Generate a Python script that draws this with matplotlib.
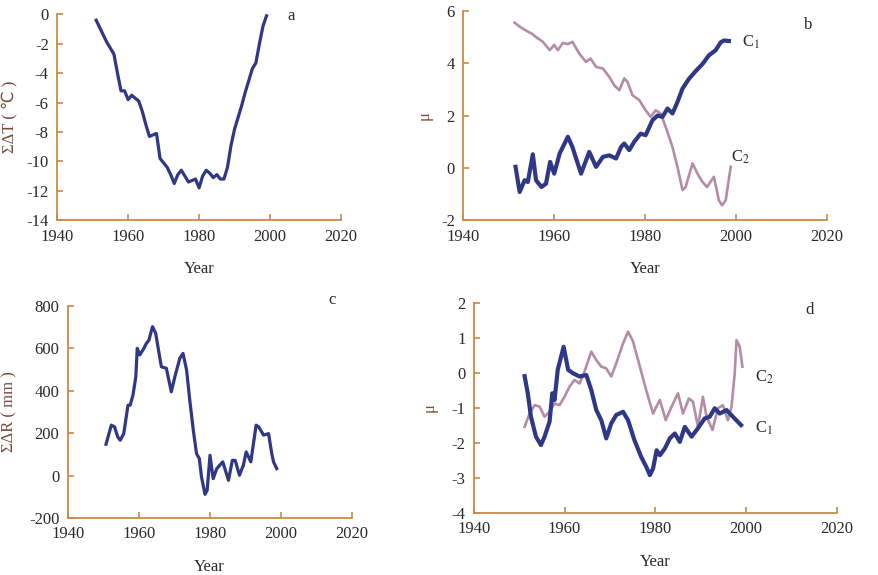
import matplotlib
matplotlib.use("Agg")
import matplotlib.pyplot as plt

plt.rcParams['font.family'] = ['Liberation Serif', 'DejaVu Sans']
plt.rcParams['mathtext.fontset'] = 'stix'
plt.rcParams['axes.unicode_minus'] = False

# panel a: accumulated temperature anomaly
years_a = [1951, 1952, 1953, 1954, 1955, 1956, 1957, 1958, 1959, 1960,
           1961, 1962, 1963, 1964, 1965, 1966, 1967, 1968, 1969, 1970,
           1971, 1972, 1973, 1974, 1975, 1976, 1977, 1978, 1979, 1980,
           1981, 1982, 1983, 1984, 1985, 1986, 1987, 1988, 1989, 1990,
           1991, 1992, 1993, 1994, 1995, 1996, 1997, 1998, 1999]
temp_a = [-0.4, -0.9, -1.4, -1.9, -2.3, -2.7, -4.0, -5.2, -5.2, -5.8,
          -5.5, -5.7, -5.9, -6.6, -7.5, -8.3, -8.2, -8.1, -9.8, -10.1,
          -10.4, -10.9, -11.5, -10.9, -10.6, -11.0, -11.4, -11.3, -11.2, -11.8,
          -11.0, -10.6, -10.8, -11.1, -10.9, -11.2, -11.2, -10.4, -8.9, -7.8,
          -7.0, -6.2, -5.3, -4.5, -3.7, -3.3, -2.0, -0.8, -0.1]

# panel b: temperature test statistics
years_b1 = [1951.5, 1952.4, 1953.5, 1954.2, 1955.3, 1956.0, 1957.2, 1958.2, 1959.1, 1960.0,
            1961.2, 1963.0, 1964.0, 1965.9, 1967.7, 1969.2, 1970.7, 1972.1, 1973.6, 1974.7,
            1975.4, 1976.5, 1977.6, 1979.0, 1980.1, 1981.6, 1982.7, 1983.8, 1984.9, 1986.0,
            1987.1, 1988.2, 1989.6, 1991.1, 1992.6, 1994.0, 1995.5, 1996.6, 1997.3, 1998.4]
c1_b = [0.04, -0.92, -0.47, -0.54, 0.52, -0.47, -0.73, -0.60, 0.23, -0.22,
        0.55, 1.19, 0.80, -0.22, 0.61, 0.04, 0.42, 0.48, 0.36, 0.80,
        0.93, 0.68, 1.00, 1.31, 1.25, 1.82, 2.00, 1.95, 2.27, 2.08,
        2.52, 3.03, 3.40, 3.70, 3.97, 4.30, 4.50, 4.80, 4.87, 4.85]
years_b2 = [1951.3, 1952.4, 1953.9, 1955.0, 1956.0, 1957.5, 1959.0, 1960.0, 1960.8, 1961.9,
            1963.0, 1964.0, 1965.5, 1967.0, 1968.0, 1969.2, 1970.7, 1972.1, 1973.2, 1974.3,
            1975.4, 1976.1, 1977.2, 1978.7, 1980.1, 1981.2, 1982.3, 1983.4, 1984.5, 1986.0,
            1987.1, 1988.2, 1988.9, 1990.4, 1991.5, 1992.6, 1993.6, 1995.1, 1996.2, 1996.9,
            1997.7, 1998.8]
c2_b = [5.55, 5.40, 5.24, 5.14, 5.00, 4.82, 4.50, 4.70, 4.50, 4.78,
        4.73, 4.82, 4.37, 4.05, 4.18, 3.86, 3.80, 3.48, 3.16, 2.97,
        3.42, 3.29, 2.78, 2.59, 2.20, 1.95, 2.20, 2.08, 1.57, 0.80,
        0.04, -0.85, -0.73, 0.17, -0.22, -0.54, -0.73, -0.34, -1.24, -1.43,
        -1.24, 0.04]

# panel c: accumulated precipitation anomaly
years_c = [1950.8, 1952.3, 1953.2, 1954.1, 1954.8, 1955.8, 1956.5, 1957.0, 1957.6, 1958.4,
           1959.2, 1959.6, 1960.3, 1961.2, 1962.2, 1962.9, 1963.9, 1964.8, 1965.9, 1966.4,
           1967.8, 1969.2, 1970.2, 1971.6, 1972.5, 1973.5, 1974.4, 1975.4, 1976.3, 1977.1,
           1977.7, 1978.7, 1979.3, 1980.1, 1981.0, 1982.0, 1983.7, 1985.3, 1986.4, 1987.2,
           1988.4, 1989.5, 1990.3, 1991.6, 1993.1, 1993.8, 1995.2, 1996.6, 1997.5, 1998.0,
           1998.9]
rain_c = [148, 238, 230, 183, 167, 198, 277, 332, 332, 380,
          466, 600, 569, 592, 624, 639, 702, 671, 561, 513,
          506, 395, 466, 553, 576, 498, 356, 214, 104, 80,
          -6, -88, -69, 96, -14, 33, 65, -22, 72, 72,
          2, 49, 112, 65, 238, 230, 191, 198, 104, 65,
          33]

# panel d: precipitation test statistics
years_d1 = [1951.2, 1951.9, 1952.6, 1953.7, 1954.8, 1955.6, 1956.7, 1957.3, 1957.8, 1958.5,
            1959.8, 1960.8, 1961.9, 1963.3, 1964.8, 1965.9, 1967.0, 1968.1, 1969.2, 1970.3,
            1971.4, 1972.9, 1974.0, 1975.4, 1976.9, 1978.0, 1978.8, 1979.5, 1980.3, 1981.0,
            1982.1, 1983.2, 1984.3, 1985.4, 1986.5, 1988.0, 1989.4, 1990.9, 1992.0, 1993.1,
            1994.2, 1995.7, 1997.1, 1998.9]
c1_d = [-0.09, -0.58, -1.25, -1.82, -2.06, -1.82, -1.39, -0.58, -0.77, 0.09,
        0.75, 0.09, -0.01, -0.10, -0.06, -0.49, -1.06, -1.35, -1.87, -1.44,
        -1.20, -1.11, -1.35, -1.92, -2.40, -2.68, -2.92, -2.73, -2.21, -2.35,
        -2.16, -1.87, -1.73, -1.97, -1.54, -1.82, -1.58, -1.30, -1.25, -1.01,
        -1.16, -1.06, -1.25, -1.49]
years_d2 = [1951.2, 1952.3, 1953.4, 1954.5, 1955.6, 1956.7, 1957.8, 1958.9, 1960.0, 1961.1,
            1962.2, 1963.3, 1964.4, 1965.9, 1967.0, 1968.1, 1969.2, 1970.3, 1971.4, 1972.9,
            1974.0, 1975.1, 1976.6, 1978.0, 1979.5, 1980.4, 1981.0, 1982.3, 1983.6, 1985.0,
            1986.1, 1987.4, 1988.3, 1989.4, 1990.5, 1991.3, 1992.6, 1993.8, 1994.9, 1996.0,
            1996.8, 1997.5, 1997.9, 1998.6, 1999.2]
c2_d = [-1.54, -1.16, -0.92, -0.96, -1.25, -1.11, -0.87, -0.92, -0.68, -0.39,
        -0.20, -0.30, 0.04, 0.61, 0.37, 0.18, 0.13, -0.10, 0.28, 0.85,
        1.18, 0.90, 0.18, -0.49, -1.16, -0.92, -0.77, -1.35, -0.96, -0.58,
        -1.16, -0.73, -0.82, -1.54, -0.68, -1.25, -1.63, -1.01, -0.92, -1.35,
        -0.96, -0.01, 0.94, 0.75, 0.18]

x_ticks = [1940, 1960, 1980, 2000, 2020]

navy = '#2e3887'
mauve = '#b48ca6'
axis_col = '#c98b4a'
text_col = '#2a2a2a'
label_col = '#7a4a3e'


def style_axis(ax, ylim, yticks):
    ax.set_xlim(1940, 2020)
    ax.set_ylim(*ylim)
    ax.set_xticks(x_ticks)
    ax.set_yticks(yticks)
    for side in ['top', 'right']:
        ax.spines[side].set_visible(False)
    for side in ['left', 'bottom']:
        ax.spines[side].set_color(axis_col)
        ax.spines[side].set_linewidth(1.3)
    ax.tick_params(direction='in', length=4, width=1.2, color=axis_col,
                   labelsize=12, labelcolor=text_col, pad=6)
    ax.set_xlabel('Year', fontsize=12, color=text_col, labelpad=12)


fig = plt.figure(figsize=(8.79, 5.75), dpi=100)

ax_a = fig.add_axes([0.065, 0.617, 0.323, 0.358])
ax_b = fig.add_axes([0.527, 0.617, 0.414, 0.364])
ax_c = fig.add_axes([0.077, 0.099, 0.323, 0.369])
ax_d = fig.add_axes([0.539, 0.108, 0.413, 0.365])

ax_a.plot(years_a, temp_a, color=navy, lw=2.3)
style_axis(ax_a, (-14, 0), range(-14, 1, 2))
ax_a.set_ylabel('ΣΔT ( ℃ )', fontsize=12, color=label_col)
ax_a.yaxis.set_label_coords(-0.137, 0.5)
ax_a.text(2005, -0.1, 'a', fontsize=12, color=text_col, va='center')

ax_b.plot(years_b2, c2_b, color=mauve, lw=1.9)
ax_b.plot(years_b1, c1_b, color=navy, lw=3.0)
style_axis(ax_b, (-2, 6), range(-2, 7, 2))
ax_b.set_ylabel('μ', fontsize=12, color=label_col)
ax_b.yaxis.set_label_coords(-0.085, 0.5)
ax_b.text(2015, 5.45, 'b', fontsize=12, color=text_col, va='center')
ax_b.text(2001.2, 4.8, r'C$_1$', fontsize=12, color=text_col, va='center')
ax_b.text(1998.8, 0.4, r'C$_2$', fontsize=12, color=text_col, va='center')

ax_c.plot(years_c, rain_c, color=navy, lw=2.3)
style_axis(ax_c, (-200, 800), range(-200, 801, 200))
ax_c.set_ylabel('ΣΔR ( mm )', fontsize=12, color=label_col)
ax_c.yaxis.set_label_coords(-0.176, 0.5)
ax_c.text(2013.5, 830, 'c', fontsize=12, color=text_col, va='center')

ax_d.plot(years_d2, c2_d, color=mauve, lw=1.9)
ax_d.plot(years_d1, c1_d, color=navy, lw=3.0)
style_axis(ax_d, (-4, 2), range(-4, 3, 1))
ax_d.set_ylabel('μ', fontsize=12, color=label_col)
ax_d.yaxis.set_label_coords(-0.099, 0.5)
ax_d.text(2013, 1.8, 'd', fontsize=12, color=text_col, va='center')
ax_d.text(2002, -0.12, r'C$_2$', fontsize=12, color=text_col, va='center')
ax_d.text(2002, -1.57, r'C$_1$', fontsize=12, color=text_col, va='center')

fig.savefig('out.png', dpi=100)
